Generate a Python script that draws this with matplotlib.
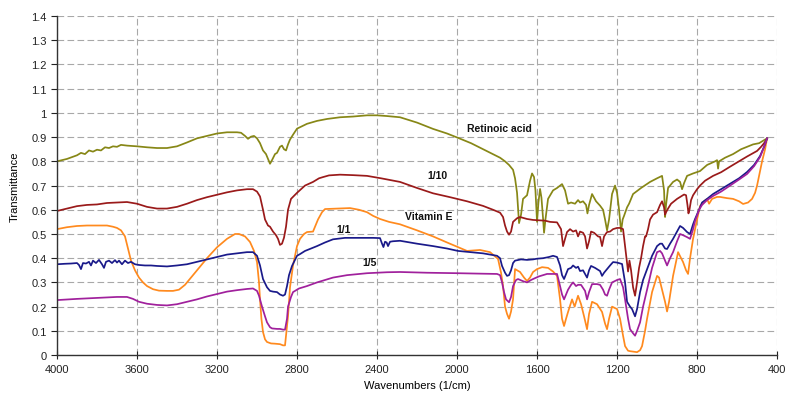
import matplotlib
matplotlib.use("Agg")
import matplotlib.pyplot as plt
from matplotlib.ticker import FuncFormatter

plt.rcParams['font.family'] = ['Liberation Sans', 'DejaVu Sans']

# ---------------- data (wavenumber, transmittance) ----------------
ra_wn = [4000, 3950, 3900, 3880, 3860, 3840, 3820, 3800, 3780, 3760, 3740, 3720, 3700, 3680, 3650, 3600,
         3550, 3500, 3450, 3400, 3350, 3300, 3250, 3200, 3150, 3100, 3080, 3060, 3045, 3030, 3015, 3000,
         2985, 2970, 2955, 2940, 2935, 2925, 2910, 2900, 2885, 2875, 2865, 2855, 2845, 2835, 2820, 2800,
         2750, 2700, 2650, 2585, 2520, 2450, 2400, 2350, 2285, 2200, 2120, 2050, 1995, 1930, 1870, 1810,
         1785, 1760, 1740, 1720, 1710, 1700, 1690, 1680, 1670, 1650, 1635, 1625, 1615, 1608, 1600, 1593,
         1585, 1578, 1570, 1565, 1558, 1545, 1520, 1500, 1475, 1460, 1445, 1430, 1410, 1395, 1385, 1370,
         1355, 1348, 1340, 1325, 1305, 1285, 1270, 1260, 1250, 1240, 1225, 1210, 1200, 1190, 1180, 1172,
         1165, 1150, 1140, 1120, 1080, 1035, 1000, 975, 965, 960, 955, 945, 935, 920, 900, 885, 875, 865,
         850, 820, 785, 750, 710, 700, 695, 690, 660, 620, 580, 550, 520, 490, 470, 450]
ra_t = [0.80, 0.81, 0.825, 0.835, 0.83, 0.845, 0.84, 0.848, 0.845, 0.858, 0.855, 0.862, 0.86, 0.868, 0.865, 0.862,
        0.858, 0.855, 0.855, 0.862, 0.878, 0.895, 0.905, 0.915, 0.92, 0.92, 0.918, 0.905, 0.893, 0.902, 0.905, 0.895,
        0.875, 0.845, 0.83, 0.80, 0.79, 0.805, 0.83, 0.835, 0.86, 0.865, 0.85, 0.845, 0.87, 0.89, 0.91, 0.935,
        0.955, 0.967, 0.975, 0.982, 0.985, 0.99, 0.99, 0.987, 0.982, 0.96, 0.934, 0.915, 0.897, 0.875, 0.85, 0.825,
        0.815, 0.80, 0.785, 0.765, 0.73, 0.67, 0.545, 0.58, 0.645, 0.66, 0.72, 0.75, 0.735, 0.68, 0.55, 0.63,
        0.686, 0.65, 0.565, 0.505, 0.56, 0.645, 0.68, 0.69, 0.706, 0.68, 0.625, 0.63, 0.625, 0.64, 0.63, 0.635,
        0.62, 0.585, 0.62, 0.665, 0.635, 0.617, 0.60, 0.56, 0.515, 0.56, 0.665, 0.70, 0.67, 0.60, 0.51, 0.56,
        0.575, 0.61, 0.625, 0.665, 0.69, 0.715, 0.73, 0.74, 0.68, 0.57, 0.62, 0.69, 0.70, 0.715, 0.725, 0.715, 0.685, 0.71,
        0.74, 0.75, 0.76, 0.785, 0.80, 0.805, 0.77, 0.80, 0.815, 0.83, 0.85, 0.86, 0.87, 0.875, 0.885, 0.895]

r10_wn = [4000, 3950, 3900, 3850, 3800, 3750, 3700, 3650, 3600, 3550, 3500, 3450, 3400, 3350, 3300, 3250,
          3200, 3150, 3100, 3050, 3020, 3000, 2985, 2970, 2960, 2945, 2935, 2920, 2905, 2895, 2885, 2875,
          2865, 2855, 2845, 2830, 2800, 2760, 2720, 2690, 2670, 2640, 2585, 2520, 2450, 2380, 2285, 2200,
          2120, 2035, 1950, 1870, 1820, 1785, 1770, 1760, 1750, 1740, 1730, 1720, 1700, 1685, 1650, 1620,
          1560, 1535, 1500, 1480, 1470, 1460, 1450, 1435, 1420, 1405, 1395, 1385, 1370, 1360, 1350, 1340,
          1330, 1315, 1295, 1285, 1275, 1265, 1250, 1235, 1220, 1200, 1185, 1170, 1160, 1150, 1145, 1138,
          1130, 1120, 1110, 1100, 1090, 1080, 1070, 1060, 1055, 1045, 1035, 1020, 1000, 985, 975, 965,
          960, 955, 945, 930, 915, 900, 880, 865, 855, 848, 843, 838, 830, 820, 800, 785, 760, 720, 680,
          635, 590, 550, 500, 480, 465, 450]
r10_t = [0.595, 0.605, 0.615, 0.62, 0.622, 0.628, 0.63, 0.632, 0.625, 0.612, 0.605, 0.605, 0.612, 0.625, 0.64, 0.652,
         0.662, 0.672, 0.68, 0.685, 0.685, 0.675, 0.655, 0.60, 0.56, 0.535, 0.53, 0.51, 0.495, 0.48, 0.455, 0.46,
         0.485, 0.53, 0.60, 0.645, 0.67, 0.70, 0.715, 0.73, 0.735, 0.742, 0.745, 0.743, 0.74, 0.73, 0.715, 0.69,
         0.668, 0.652, 0.635, 0.616, 0.60, 0.588, 0.57, 0.535, 0.51, 0.497, 0.51, 0.55, 0.565, 0.57, 0.562, 0.558,
         0.555, 0.55, 0.548, 0.52, 0.45, 0.48, 0.508, 0.52, 0.51, 0.515, 0.49, 0.51, 0.505, 0.49, 0.44, 0.47,
         0.51, 0.505, 0.49, 0.488, 0.45, 0.49, 0.508, 0.51, 0.52, 0.525, 0.525, 0.52, 0.45, 0.38, 0.345, 0.39,
         0.35, 0.28, 0.245, 0.30, 0.36, 0.40, 0.45, 0.49, 0.49, 0.52, 0.56, 0.58, 0.59, 0.62, 0.635, 0.61,
         0.58, 0.59, 0.605, 0.625, 0.635, 0.645, 0.655, 0.663, 0.66, 0.62, 0.585, 0.60, 0.64, 0.66, 0.685, 0.70, 0.72, 0.74, 0.755,
         0.778, 0.80, 0.82, 0.843, 0.86, 0.875, 0.893]

ve_wn = [4000, 3950, 3900, 3850, 3800, 3750, 3720, 3700, 3680, 3660, 3645, 3630, 3610, 3590, 3570, 3550,
         3520, 3490, 3450, 3420, 3390, 3360, 3330, 3300, 3250, 3200, 3150, 3110, 3090, 3060, 3035, 3015,
         3000, 2990, 2985, 2978, 2970, 2960, 2950, 2930, 2910, 2885, 2870, 2860, 2850, 2845, 2835, 2820,
         2800, 2785, 2765, 2750, 2720, 2710, 2695, 2675, 2660, 2600, 2535, 2490, 2450, 2420, 2385, 2340,
         2285, 2200, 2120, 2050, 1995, 1950, 1885, 1835, 1795, 1780, 1770, 1760, 1750, 1740, 1730, 1720,
         1710, 1700, 1685, 1665, 1650, 1635, 1620, 1600, 1575, 1545, 1520, 1500, 1485, 1475, 1465, 1455,
         1445, 1425, 1412, 1395, 1380, 1365, 1350, 1340, 1325, 1300, 1275, 1260, 1250, 1240, 1225, 1200,
         1185, 1170, 1160, 1145, 1135, 1100, 1085, 1075, 1060, 1050, 1025, 1000, 990, 975, 960, 950,
         940, 920, 895, 880, 870, 855, 845, 835, 820, 800, 785, 765, 750, 740, 725, 700, 685, 650, 620,
         590, 570, 545, 525, 510, 500, 485, 475, 460, 450]
ve_t = [0.52, 0.528, 0.533, 0.535, 0.535, 0.535, 0.53, 0.525, 0.515, 0.49, 0.44, 0.39, 0.35, 0.32, 0.30, 0.285,
        0.272, 0.266, 0.265, 0.265, 0.27, 0.29, 0.32, 0.35, 0.40, 0.445, 0.48, 0.50, 0.50, 0.49, 0.467, 0.43,
        0.384, 0.30, 0.23, 0.15, 0.095, 0.065, 0.054, 0.048, 0.047, 0.045, 0.04, 0.04, 0.12, 0.16, 0.28, 0.37,
        0.45, 0.48, 0.50, 0.508, 0.51, 0.53, 0.56, 0.59, 0.603, 0.605, 0.607, 0.60, 0.59, 0.575, 0.562, 0.55,
        0.54, 0.515, 0.49, 0.465, 0.446, 0.43, 0.434, 0.425, 0.397, 0.34, 0.285, 0.20, 0.17, 0.15, 0.18, 0.23,
        0.355, 0.35, 0.343, 0.32, 0.306, 0.32, 0.343, 0.355, 0.363, 0.36, 0.345, 0.327, 0.23, 0.15, 0.12, 0.15,
        0.178, 0.23, 0.20, 0.245, 0.21, 0.16, 0.107, 0.17, 0.22, 0.21, 0.178, 0.13, 0.107, 0.15, 0.20, 0.19,
        0.15, 0.08, 0.037, 0.018, 0.016, 0.012, 0.02, 0.037, 0.10, 0.15, 0.26, 0.327, 0.32, 0.27, 0.22, 0.18,
        0.22, 0.327, 0.425, 0.40, 0.384, 0.35, 0.335, 0.40, 0.48, 0.56, 0.616, 0.635, 0.645, 0.625, 0.645, 0.653, 0.653, 0.648, 0.645,
        0.635, 0.624, 0.63, 0.645, 0.67, 0.70, 0.76, 0.80, 0.85, 0.895]

r1_wn = [4000, 3960, 3930, 3900, 3890, 3880, 3870, 3855, 3840, 3830, 3820, 3805, 3790, 3775, 3765, 3755,
         3740, 3725, 3710, 3700, 3690, 3675, 3660, 3645, 3630, 3610, 3590, 3560, 3530, 3500, 3450, 3400,
         3350, 3300, 3250, 3200, 3150, 3100, 3050, 3020, 3000, 2985, 2970, 2950, 2935, 2920, 2900, 2885,
         2870, 2860, 2850, 2840, 2825, 2800, 2785, 2760, 2730, 2700, 2660, 2620, 2560, 2485, 2420, 2385,
         2375, 2368, 2360, 2352, 2345, 2335, 2320, 2285, 2200, 2120, 2050, 1995, 1930, 1870, 1800, 1785,
         1775, 1760, 1750, 1740, 1730, 1720, 1710, 1680, 1650, 1620, 1600, 1570, 1540, 1520, 1500, 1485,
         1475, 1465, 1455, 1445, 1430, 1420, 1405, 1395, 1385, 1370, 1360, 1350, 1340, 1330, 1310, 1285,
         1275, 1265, 1250, 1235, 1220, 1200, 1175, 1160, 1150, 1135, 1125, 1110, 1100, 1085, 1070, 1050,
         1025, 1000, 985, 975, 960, 950, 935, 920, 900, 885, 870, 850, 835, 820, 810, 790, 775, 750, 720,
         680, 635, 590, 550, 515, 485, 465, 450]
r1_t = [0.375, 0.377, 0.378, 0.38, 0.372, 0.355, 0.38, 0.378, 0.385, 0.37, 0.39, 0.38, 0.393, 0.375, 0.36, 0.385,
        0.39, 0.38, 0.392, 0.382, 0.39, 0.375, 0.39, 0.38, 0.385, 0.375, 0.372, 0.37, 0.37, 0.368, 0.366, 0.37,
        0.375, 0.385, 0.395, 0.405, 0.415, 0.42, 0.425, 0.425, 0.41, 0.37, 0.314, 0.28, 0.265, 0.262, 0.26, 0.25,
        0.245, 0.25, 0.285, 0.33, 0.368, 0.41, 0.417, 0.43, 0.44, 0.45, 0.465, 0.478, 0.484, 0.484, 0.484, 0.483,
        0.46, 0.446, 0.468, 0.465, 0.45, 0.468, 0.47, 0.472, 0.46, 0.45, 0.44, 0.43, 0.425, 0.42, 0.41, 0.40,
        0.368, 0.34, 0.327, 0.33, 0.35, 0.38, 0.39, 0.395, 0.393, 0.395, 0.398, 0.40, 0.405, 0.41, 0.405, 0.37,
        0.33, 0.314, 0.335, 0.355, 0.36, 0.37, 0.36, 0.365, 0.347, 0.35, 0.335, 0.32, 0.35, 0.368, 0.36, 0.347,
        0.327, 0.34, 0.355, 0.37, 0.384, 0.382, 0.376, 0.30, 0.22, 0.20, 0.19, 0.16, 0.19, 0.26, 0.31, 0.355,
        0.41, 0.45, 0.46, 0.46, 0.44, 0.438, 0.46, 0.48, 0.51, 0.533, 0.525, 0.508, 0.50, 0.54, 0.562, 0.60, 0.63, 0.645, 0.665,
        0.685, 0.707, 0.73, 0.756, 0.785, 0.822, 0.86, 0.895]

r5_wn = [4000, 3900, 3800, 3700, 3650, 3620, 3590, 3550, 3500, 3450, 3400, 3350, 3300, 3250, 3200, 3150,
         3100, 3050, 3020, 3000, 2990, 2975, 2960, 2950, 2935, 2925, 2900, 2885, 2870, 2860, 2850, 2845,
         2830, 2820, 2790, 2750, 2700, 2620, 2550, 2450, 2350, 2285, 2150, 1995, 1870, 1800, 1785, 1775,
         1765, 1755, 1740, 1730, 1720, 1705, 1695, 1670, 1650, 1630, 1620, 1590, 1550, 1500, 1485, 1475,
         1465, 1455, 1445, 1430, 1420, 1405, 1395, 1380, 1360, 1350, 1340, 1325, 1300, 1285, 1270, 1260,
         1250, 1240, 1225, 1200, 1185, 1170, 1160, 1145, 1135, 1120, 1110, 1100, 1085, 1070, 1050, 1025,
         1000, 985, 975, 960, 950, 935, 920, 900, 885, 870, 850, 835, 820, 810, 790, 775, 750, 720, 680,
         635, 590, 550, 515, 485, 465, 450]
r5_t = [0.227, 0.232, 0.236, 0.24, 0.24, 0.232, 0.22, 0.212, 0.207, 0.205, 0.21, 0.22, 0.23, 0.242, 0.252, 0.262,
        0.268, 0.273, 0.275, 0.265, 0.245, 0.20, 0.16, 0.135, 0.115, 0.11, 0.108, 0.108, 0.105, 0.105, 0.15, 0.20,
        0.24, 0.26, 0.275, 0.285, 0.30, 0.32, 0.33, 0.338, 0.342, 0.343, 0.34, 0.338, 0.336, 0.335, 0.33, 0.30,
        0.26, 0.23, 0.218, 0.24, 0.285, 0.31, 0.314, 0.305, 0.30, 0.31, 0.314, 0.325, 0.335, 0.335, 0.285, 0.25,
        0.23, 0.25, 0.27, 0.29, 0.30, 0.285, 0.29, 0.29, 0.265, 0.23, 0.26, 0.293, 0.293, 0.29, 0.27, 0.25,
        0.245, 0.27, 0.30, 0.31, 0.314, 0.28, 0.23, 0.15, 0.107, 0.09, 0.08, 0.10, 0.135, 0.20, 0.27, 0.36,
        0.425, 0.43, 0.42, 0.39, 0.37, 0.40, 0.425, 0.47, 0.50, 0.495, 0.487, 0.48, 0.52, 0.554, 0.60, 0.62, 0.64, 0.657, 0.675,
        0.70, 0.725, 0.748, 0.78, 0.818, 0.86, 0.895]

x_ticks = [4000, 3600, 3200, 2800, 2400, 2000, 1600, 1200, 800, 400]
y_ticks = [0, 0.1, 0.2, 0.3, 0.4, 0.5, 0.6, 0.7, 0.8, 0.9, 1.0, 1.1, 1.2, 1.3, 1.4]

series = [
    (ra_wn, ra_t, '#878716'),
    (r10_wn, r10_t, '#9a1a1a'),
    (ve_wn, ve_t, '#ff8a1e'),
    (r1_wn, r1_t, '#1a1a8a'),
    (r5_wn, r5_t, '#a0209c'),
]

labels = [("Retinoic acid", 1790, 0.938), ("1/10", 2100, 0.744), ("Vitamin E", 2140, 0.574),
          ("1/1", 2565, 0.52), ("1/5", 2435, 0.385)]

# ---------------- figure ----------------
fig = plt.figure(figsize=(7.97, 4.06), dpi=100)
ax = fig.add_axes([0.0715, 0.123, 0.9035, 0.835])

for wn, t, c in series:
    ax.plot(wn, t, color=c, lw=1.25)

for txt, x, y in labels:
    ax.text(x, y, txt, ha='center', va='center', fontsize=7.5, fontweight='bold', color='#111111')

ax.set_xlim(4000, 400)
ax.set_ylim(0, 1.4)
ax.set_xticks(x_ticks)
ax.set_yticks(y_ticks)
ax.yaxis.set_major_formatter(FuncFormatter(lambda v, p: f"{v:g}"))
ax.grid(True, color='#a8a8a8', linestyle=(0, (6, 3)), linewidth=0.8)
ax.set_axisbelow(True)
for s in ['top', 'right']:
    ax.spines[s].set_visible(False)
for s in ['left', 'bottom']:
    ax.spines[s].set_color('#333333')
    ax.spines[s].set_linewidth(1.0)
ax.tick_params(axis='both', labelsize=8, colors='#222222', length=4)
ax.tick_params(axis='x', direction='inout', length=6)
ax.set_xlabel("Wavenumbers (1/cm)", fontsize=8, labelpad=4)
ax.set_ylabel("Transmittance", fontsize=8, labelpad=8)

fig.savefig("out.png", dpi=100)
